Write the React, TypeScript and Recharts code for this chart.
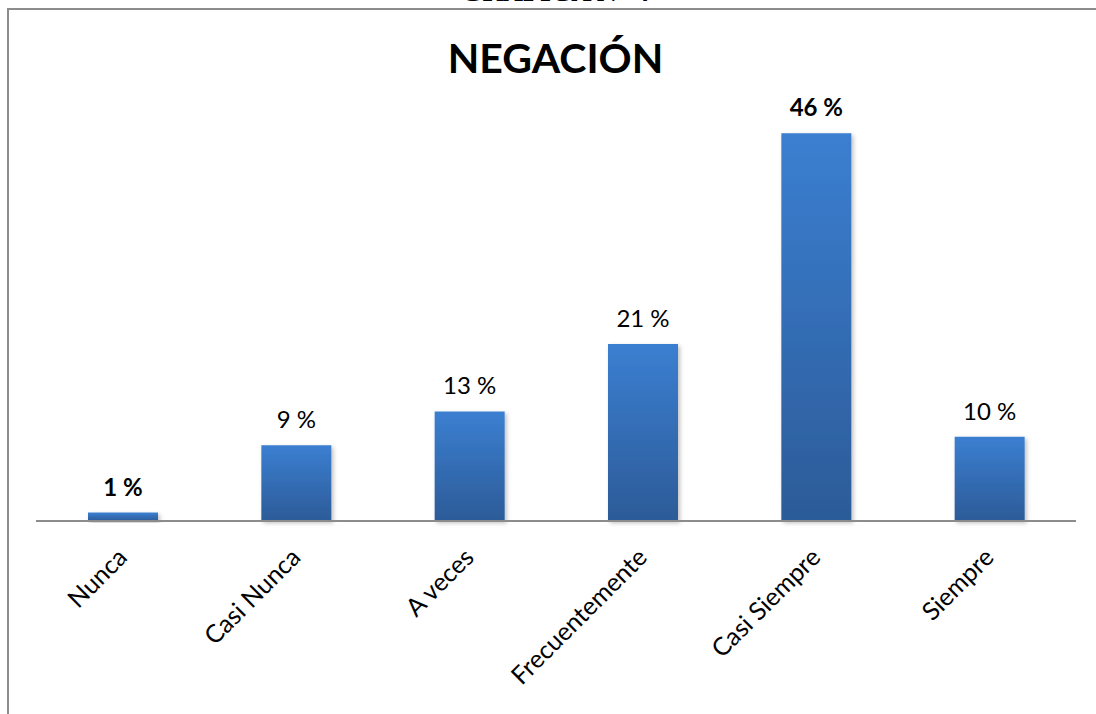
import { Bar, BarChart, LabelList, XAxis, YAxis } from "recharts";

const categories = ["Nunca", "Casi Nunca", "A veces", "Frecuentemente", "Casi Siempre", "Siempre"];
const percents = [1, 9, 13, 21, 46, 10];
// labels drawn in bold in the original
const boldLabels = [true, false, false, false, true, false];

const data = categories.map((name, i) => ({ name, value: percents[i], bold: boldLabels[i] }));

const FONT = "Lato, 'Open Sans', sans-serif";

function AngledTick(props: any) {
  const { x, y, payload } = props;
  return (
    <g transform={`translate(${x + 6},${y + 30})`}>
      <text
        textAnchor="end"
        transform="rotate(-45)"
        fontFamily={FONT}
        fontSize={25}
        fill="#000"
      >
        {payload.value}
      </text>
    </g>
  );
}

function ValueLabel(props: any) {
  const { x, y, width, index, value } = props;
  return (
    <text
      x={x + width / 2}
      y={y - 17}
      textAnchor="middle"
      fontFamily={FONT}
      fontSize={24}
      fontWeight={boldLabels[index] ? 700 : 400}
      fill="#000"
    >
      {`${value} %`}
    </text>
  );
}

export default function App() {
  return (
    <div style={{ position: "fixed", left: 0, top: 0, width: 1096, height: 714, background: "#fff", overflow: "hidden" }}>
      <div
        style={{
          position: "absolute",
          left: 7,
          top: 8,
          width: 1120,
          height: 740,
          border: "2px solid #8c8c8c",
          boxSizing: "border-box",
        }}
      />
      {/* page heading above the chart frame, cut off by the crop in the original */}
      <div
        style={{
          position: "absolute",
          left: 0,
          width: 1110,
          top: -21,
          textAlign: "center",
          fontFamily: "'Liberation Serif', serif",
          fontWeight: 700,
          fontSize: 28,
          lineHeight: "26px",
        }}
      >
        GRÁFICA N° 4
      </div>
      <div
        style={{
          position: "absolute",
          left: 0,
          width: 1111,
          top: 33,
          textAlign: "center",
          fontFamily: FONT,
          fontWeight: 700,
          fontSize: 41,
          lineHeight: "50px",
        }}
      >
        NEGACIÓN
      </div>
      <div style={{ position: "absolute", left: 0, top: 0 }}>
        <BarChart
          width={1096}
          height={714}
          data={data}
          margin={{ top: 99.5, right: 20, bottom: 0, left: 36 }}
        >
          <defs>
            <linearGradient id="barFill" x1="0" y1="0" x2="0" y2="1">
              <stop offset="0%" stopColor="#3b7fd1" />
              <stop offset="100%" stopColor="#2c5b98" />
            </linearGradient>
            <filter id="barShadow" x="-20%" y="-20%" width="140%" height="140%">
              <feDropShadow dx="2" dy="2" stdDeviation="2" floodColor="#000" floodOpacity="0.25" />
            </filter>
          </defs>
          <YAxis hide domain={[0, 50]} />
          <XAxis
            dataKey="name"
            height={193}
            interval={0}
            tickLine={false}
            axisLine={{ stroke: "#8c8c8c", strokeWidth: 2 }}
            tick={<AngledTick />}
          />
          <Bar
            dataKey="value"
            barSize={70}
            fill="url(#barFill)"
            filter="url(#barShadow)"
            isAnimationActive={false}
          >
            <LabelList dataKey="value" content={<ValueLabel />} />
          </Bar>
        </BarChart>
      </div>
    </div>
  );
}
